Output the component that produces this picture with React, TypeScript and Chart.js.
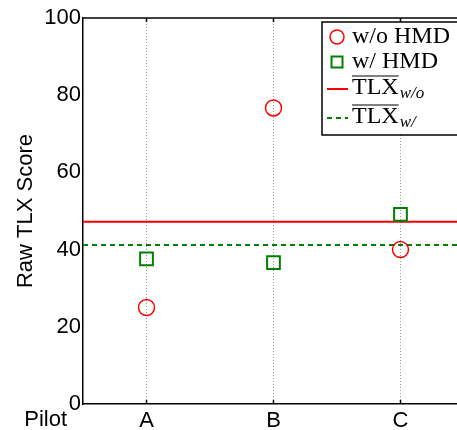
import React, { useEffect, useRef } from "react";
import { Chart, registerables } from "chart.js";

Chart.register(...registerables);

const categories = ["A", "B", "C"];
const woHMD = [25, 76.7, 40];
const wHMD = [37.6, 36.6, 49.1];
const tlxWo = 47.2;
const tlxW = 41.2;
const yTicks = [0, 20, 40, 60, 80, 100];
const X_MIN = 0.5;
const X_MAX = 3.445;

const RED = "#ff0000";
const GREEN = "#008000";
const SANS = "'Liberation Sans', Arial, sans-serif";
const SERIF = "'Liberation Serif', 'Times New Roman', serif";

const decorPlugin = {
  id: "decor",
  afterDraw(chart: any) {
    const { ctx, chartArea } = chart;
    const { left, top, right, bottom } = chartArea;
    const xs = chart.scales.x;
    ctx.save();
    // top axis line
    ctx.strokeStyle = "#000";
    ctx.lineWidth = 1.5;
    ctx.beginPath();
    ctx.moveTo(left, top);
    ctx.lineTo(right + 5, top);
    ctx.stroke();
    // inward ticks on x
    categories.forEach((_, i) => {
      const px = xs.getPixelForValue(i + 1);
      ctx.beginPath();
      ctx.moveTo(px, bottom);
      ctx.lineTo(px, bottom - 4);
      ctx.moveTo(px, top);
      ctx.lineTo(px, top + 4);
      ctx.stroke();
    });
    // "Pilot" label
    ctx.fillStyle = "#000";
    ctx.font = `22px ${SANS}`;
    ctx.textAlign = "right";
    ctx.textBaseline = "top";
    ctx.fillText("Pilot", left - 16, bottom + 5);

    // legend
    const bx = left + 239;
    const by = top + 4;
    const bw = 140;
    const bh = 113;
    ctx.fillStyle = "#fff";
    ctx.fillRect(bx, by, bw, bh);
    ctx.strokeStyle = "#000";
    ctx.lineWidth = 1.5;
    ctx.strokeRect(bx, by, bw, bh);

    const mx = bx + 15;
    const tx = bx + 30;
    ctx.textAlign = "left";
    ctx.textBaseline = "alphabetic";
    ctx.font = `24px ${SERIF}`;
    ctx.fillStyle = "#000";

    // row 1: circle
    ctx.strokeStyle = RED;
    ctx.lineWidth = 1.5;
    ctx.beginPath();
    ctx.arc(mx, by + 15, 7, 0, Math.PI * 2);
    ctx.stroke();
    ctx.fillText("w/o HMD", tx, by + 21);

    // row 2: square
    ctx.strokeStyle = GREEN;
    ctx.lineWidth = 2;
    ctx.strokeRect(mx - 5.5, by + 34.5, 11, 11);
    ctx.fillText("w/ HMD", tx, by + 46);

    const drawTLX = (y: number, sub: string) => {
      ctx.font = `24px ${SERIF}`;
      ctx.fillStyle = "#000";
      const w = ctx.measureText("TLX").width;
      ctx.fillText("TLX", tx, y);
      ctx.strokeStyle = "#000";
      ctx.lineWidth = 1;
      ctx.setLineDash([]);
      ctx.beginPath();
      ctx.moveTo(tx, y - 18);
      ctx.lineTo(tx + w, y - 18);
      ctx.stroke();
      ctx.font = `italic 17px ${SERIF}`;
      ctx.fillText(sub, tx + w + 1, y + 4);
    };
    // row 3: red line
    ctx.strokeStyle = RED;
    ctx.lineWidth = 2;
    ctx.beginPath();
    ctx.moveTo(bx + 5, by + 67);
    ctx.lineTo(bx + 26, by + 67);
    ctx.stroke();
    drawTLX(by + 72, "w/o");

    // row 4: green dashed
    ctx.strokeStyle = GREEN;
    ctx.lineWidth = 2;
    ctx.setLineDash([5, 4]);
    ctx.beginPath();
    ctx.moveTo(bx + 5, by + 96);
    ctx.lineTo(bx + 26, by + 96);
    ctx.stroke();
    ctx.setLineDash([]);
    drawTLX(by + 101, "w/");

    ctx.restore();
  },
};

export default function App() {
  const ref = useRef<HTMLCanvasElement | null>(null);
  useEffect(() => {
    if (!ref.current) return;
    const chart = new Chart(ref.current, {
      type: "scatter",
      data: {
        datasets: [
          {
            label: "w/o HMD",
            data: categories.map((_, i) => ({ x: i + 1, y: woHMD[i] })),
            pointStyle: "circle",
            pointRadius: 8,
            borderColor: RED,
            backgroundColor: "transparent",
            borderWidth: 1.5,
            showLine: false,
          },
          {
            label: "w/ HMD",
            data: categories.map((_, i) => ({ x: i + 1, y: wHMD[i] })),
            pointStyle: "rect",
            pointRadius: 9,
            borderColor: GREEN,
            backgroundColor: "transparent",
            borderWidth: 2,
            showLine: false,
          },
          {
            label: "TLX w/o",
            type: "line" as any,
            data: [
              { x: X_MIN, y: tlxWo },
              { x: X_MAX, y: tlxWo },
            ],
            borderColor: RED,
            borderWidth: 2,
            pointRadius: 0,
            showLine: true,
          },
          {
            label: "TLX w/",
            type: "line" as any,
            data: [
              { x: X_MIN, y: tlxW },
              { x: X_MAX, y: tlxW },
            ],
            borderColor: GREEN,
            borderWidth: 2,
            borderDash: [5, 4],
            pointRadius: 0,
            showLine: true,
          },
        ],
      },
      options: {
        animation: false,
        responsive: false,
        layout: { autoPadding: false, padding: { top: 18, right: 0, left: 0, bottom: 0 } },
        plugins: { legend: { display: false }, tooltip: { enabled: false } },
        scales: {
          x: {
            type: "linear",
            min: X_MIN,
            max: X_MAX,
            afterBuildTicks: (s: any) => {
              s.ticks = categories.map((_, i) => ({ value: i + 1 }));
            },
            afterFit: (s: any) => {
              s.height = 26;
              s.paddingLeft = 0;
              s.paddingRight = 0;
            },
            ticks: {
              callback: (_v: any, i: number) => categories[i],
              font: { family: SANS, size: 22 },
              color: "#000",
              padding: 4,
              maxRotation: 0,
              autoSkip: false,
            },
            grid: { color: "#999", lineWidth: 1, drawTicks: false },
            border: { color: "#000", width: 1.5, dash: [1, 2] },
          },
          y: {
            min: 0,
            max: 100,
            afterBuildTicks: (s: any) => {
              s.ticks = yTicks.map((v) => ({ value: v }));
            },
            afterFit: (s: any) => {
              s.width = 83;
              s.paddingTop = 0;
              s.paddingBottom = 0;
            },
            ticks: {
              font: { family: SANS, size: 22 },
              color: "#000",
              padding: 2,
            },
            grid: { display: false, drawTicks: false, tickLength: 0 },
            border: { display: true, color: "#000", width: 1.5 },
            title: {
              display: true,
              text: "Raw TLX Score",
              font: { family: SANS, size: 22 },
              color: "#000",
              padding: { top: 13, bottom: 0 },
            },
          },
        },
      },
      plugins: [decorPlugin],
    });
    return () => chart.destroy();
  }, []);
  return (
    <div style={{ position: "fixed", left: 0, top: 0, width: 457, height: 430, overflow: "hidden", background: "#fff" }}>
      <canvas ref={ref} width={457} height={430} style={{ width: 457, height: 430, display: "block" }} />
    </div>
  );
}
